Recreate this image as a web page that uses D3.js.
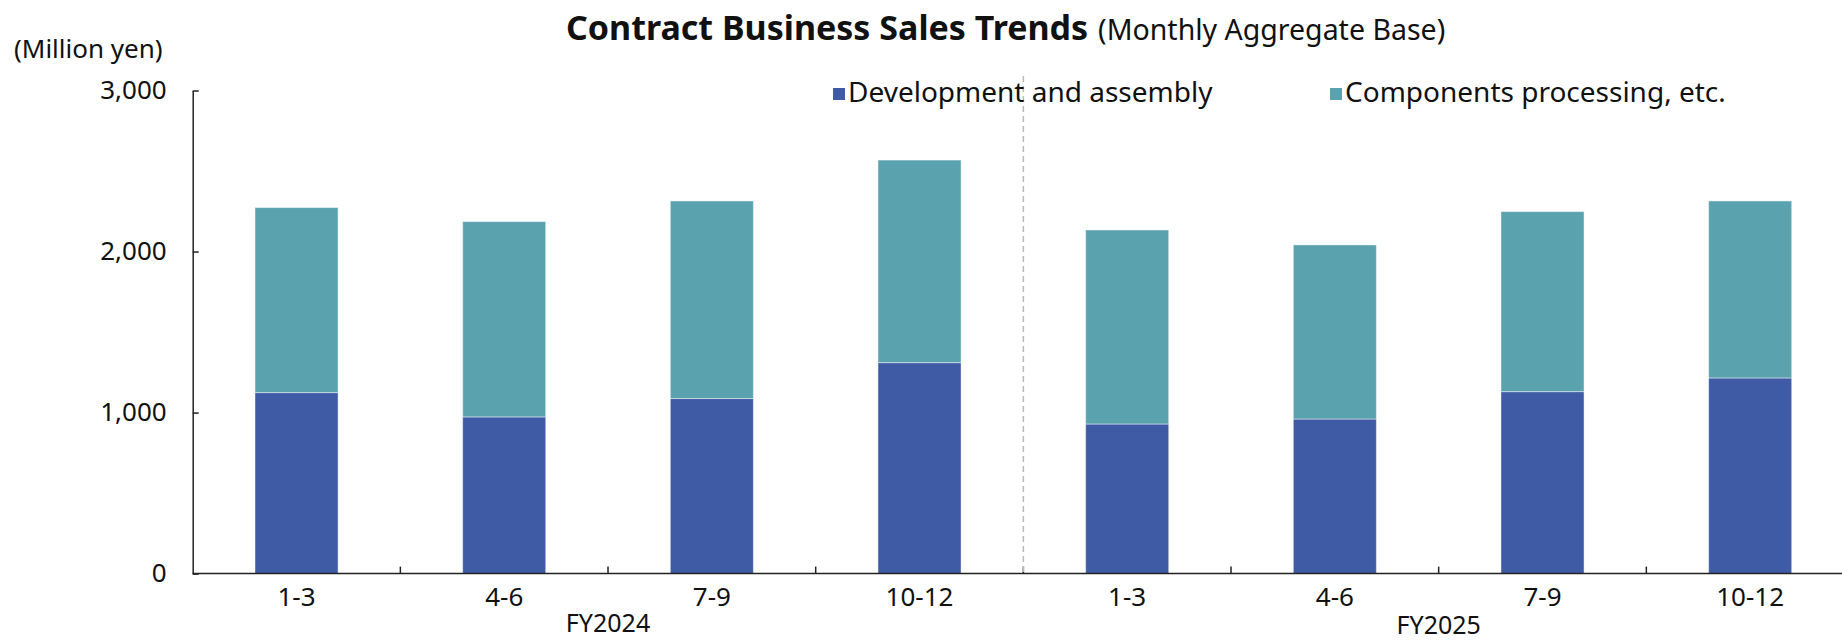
<!DOCTYPE html>
<html lang="en">
<head>
	<meta charset="utf-8">
	<title>Contract Business Sales Trends</title>
	<script src="https://d3js.org/d3.v7.min.js"></script>
	<style>
		body {margin:0;background:#fff;}
		text {font-family:"Noto Sans","Open Sans",sans-serif;fill:#111;}
		.axis path, .axis line {stroke:#222;stroke-width:1.5px;}
	</style>
</head>
<body>
<script>
	// values (million yen, monthly aggregate base)
	var periods = ["1-3", "4-6", "7-9", "10-12", "1-3", "4-6", "7-9", "10-12"];
	var fiscalYears = ["FY2024", "FY2025"];
	var devAssembly = [1124, 973, 1087, 1310, 929, 960, 1130, 1215];
	var components = [1149, 1213, 1227, 1258, 1205, 1081, 1118, 1099];
	var yTicks = [0, 1000, 2000, 3000];
	var seriesNames = ["Development and assembly", "Components processing, etc."];
	var colors = ["#3f5ba6", "#5ba2af"];

	var width = 1842, height = 640;
	// plot area (note: "top" is taken by window.top, so prefix these)
	var plotL = 192.7, plotR = 1854, plotT = 90.5, plotB = 573.6;

	var svg = d3.select("body").append("svg")
		.attr("width", width)
		.attr("height", height);

	var idx = d3.range(periods.length);

	// one slot per quarter, bars take 40% of the slot
	var xSlot = d3.scaleBand().domain(idx).range([plotL, plotR]).padding(0);
	var xBar = d3.scaleBand().domain(idx).range([plotL, plotR]).paddingInner(0.6).paddingOuter(0.3);
	var y = d3.scaleLinear().domain([0, 3000]).range([plotB, plotT]);

	var rows = idx.map(function(i) {
		return {i: i, dev: devAssembly[i], comp: components[i]};
	});
	var stack = d3.stack().keys(["dev", "comp"])(rows);

	svg.append("g").selectAll("g").data(stack).enter()
		.append("g")
		.attr("fill", function(d, k) { return colors[k]; })
		.selectAll("rect").data(function(d) { return d; }).enter()
		.append("rect")
		.attr("x", function(d) { return xBar(d.data.i); })
		.attr("width", xBar.bandwidth())
		.attr("y", function(d) { return y(d[1]); })
		.attr("height", function(d) { return y(d[0]) - y(d[1]); })
		.attr("stroke", "rgba(255,255,255,0.45)")
		.attr("stroke-width", 1);

	// y axis, ticks pointing inward
	svg.append("g")
		.attr("class", "axis")
		.attr("transform", "translate(" + plotL + ",0)")
		.call(d3.axisLeft(y).tickValues(yTicks).tickFormat(d3.format(",")).tickSizeInner(-6).tickSizeOuter(0).tickPadding(26))
		.call(function(g) { g.selectAll("text").attr("font-size", 26).style("fill", "#111"); });

	// x axis: labels at slot centres, ticks at slot boundaries
	var xAxis = svg.append("g")
		.attr("class", "axis")
		.attr("transform", "translate(0," + plotB + ")")
		.call(d3.axisBottom(xSlot).tickFormat(function(i) { return periods[i]; }).tickSize(0).tickPadding(14));
	xAxis.selectAll("text").attr("font-size", 26).style("fill", "#111");
	xAxis.select(".domain").attr("d", "M" + plotL + ",0H" + plotR);

	svg.append("g").selectAll("line").data(d3.range(1, periods.length + 1)).enter()
		.append("line")
		.attr("x1", function(i) { return plotL + i * xSlot.step(); })
		.attr("x2", function(i) { return plotL + i * xSlot.step(); })
		.attr("y1", plotB)
		.attr("y2", plotB - 7)
		.attr("stroke", "#222")
		.attr("stroke-width", 1.5);

	// fiscal year labels under each group of four
	svg.selectAll("text.fy").data(fiscalYears).enter()
		.append("text")
		.attr("class", "fy")
		.attr("x", function(d, k) { return plotL + (k * 4 + 2) * xSlot.step(); })
		.attr("y", function(d, k) { return 632 + k * 1.5; })
		.attr("text-anchor", "middle")
		.attr("font-size", 25)
		.text(function(d) { return d; });

	// divider between the fiscal years
	svg.append("line")
		.attr("x1", plotL + 4 * xSlot.step())
		.attr("x2", plotL + 4 * xSlot.step())
		.attr("y1", 76)
		.attr("y2", plotB)
		.attr("stroke", "#bbb")
		.attr("stroke-width", 1.5)
		.attr("stroke-dasharray", "6,4");

	// title
	var title = svg.append("text")
		.attr("x", 566)
		.attr("y", 40);
	title.append("tspan").attr("font-size", 34).attr("font-weight", "bold").text("Contract Business Sales Trends");
	title.append("tspan").attr("font-size", 28.5).attr("dx", 10).text("(Monthly Aggregate Base)");

	svg.append("text")
		.attr("x", 14)
		.attr("y", 58)
		.attr("font-size", 26)
		.text("(Million yen)");

	// legend
	var legendX = [833, 1330];
	var lg = svg.selectAll("g.legend").data(seriesNames).enter()
		.append("g")
		.attr("class", "legend")
		.attr("transform", function(d, k) { return "translate(" + legendX[k] + ",88)"; });
	lg.append("rect")
		.attr("width", 12)
		.attr("height", 12)
		.attr("fill", function(d, k) { return colors[k]; });
	lg.append("text")
		.attr("x", 15)
		.attr("y", 13.7)
		.attr("font-size", 28)
		.text(function(d) { return d; });
</script>
</body>
</html>
